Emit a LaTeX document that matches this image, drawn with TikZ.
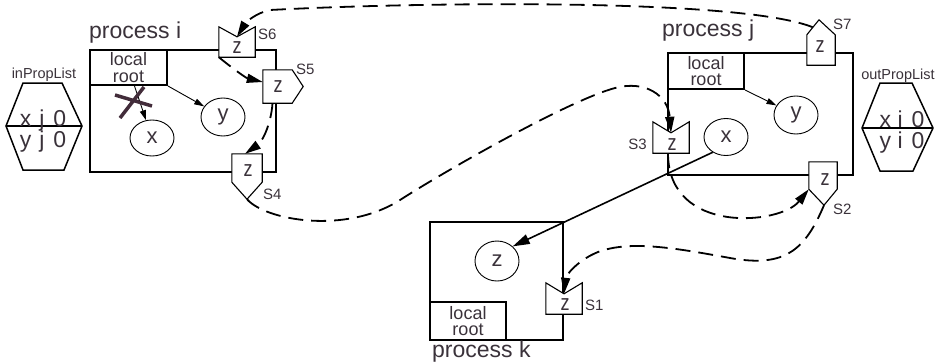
\documentclass[tikz,border=0pt]{standalone}
\usepackage{fontspec}
\setmainfont{Liberation Sans}
\usetikzlibrary{shapes.geometric,arrows.meta,calc}
\definecolor{ink}{RGB}{58,50,58}
\definecolor{crossink}{RGB}{66,44,58}

\tikzset{
  procbox/.style={draw, line width=2pt, anchor=north west, inner sep=0pt},
  rootbox/.style={draw, line width=2pt, anchor=north west, inner sep=0pt,
    align=center, text=ink, font=\fontsize{18}{16.5}\selectfont},
  blob/.style={draw, ellipse, line width=0.9pt, inner sep=0pt, text=ink,
    font=\fontsize{22}{24}\selectfont},
  sigbody/.style={inner sep=0pt},
  sigline/.style={draw, fill=white, line width=1.1pt, line join=miter},
  ztext/.style={inner sep=0pt, text=ink, font=\fontsize{18}{20}\selectfont},
  siglabel/.style={inner sep=0pt, text=ink, font=\fontsize{15}{16}\selectfont, anchor=west},
  proclabel/.style={inner sep=0pt, text=ink, font=\fontsize{23}{26}\selectfont, anchor=base west},
  listlabel/.style={inner sep=0pt, text=ink, font=\fontsize{14.5}{16}\selectfont, anchor=base},
  rowtext/.style={inner sep=0pt, text=ink, font=\fontsize{23}{26}\selectfont, anchor=base},
  hexline/.style={draw, line width=1.5pt, line join=miter},
  divider/.style={line width=2pt},
  flow/.style={line width=1.8pt, dash pattern=on 15pt off 8pt,
    -{Triangle[length=16pt,width=9pt]}},
  pointer/.style={line width=0.9pt, -{Triangle[length=10pt,width=6pt]}},
  bigpointer/.style={line width=1.6pt, -{Triangle[length=17pt,width=10pt]}},
  strike/.style={line width=3.5pt, draw=crossink},
}
\newcommand\zmark{\scalebox{1}[1.25]{z}}

\begin{document}
\begin{tikzpicture}[x=1pt,y=-1pt]
\useasboundingbox (0,0) rectangle (939,362);

% ---------- process i ----------
\node[procbox, minimum width=186pt, minimum height=122pt] (pi) at (89,49) {};
\node[rootbox, minimum width=77pt, minimum height=35pt] (pilr) at (89,49) {local\\root};
\node[proclabel] (pilabel) at (89,38) {process i};
\node[blob, minimum width=44pt, minimum height=36pt] (pix) at (152,138) {x};
\node[blob, minimum width=44pt, minimum height=38pt] (piy) at (223,117) {y};

% ---------- process j ----------
\node[procbox, minimum width=185pt, minimum height=122pt] (pj) at (667,52) {};
\node[rootbox, minimum width=76pt, minimum height=36pt] (pjlr) at (667,52) {local\\root};
\node[proclabel] (pjlabel) at (662,36) {process j};
\node[blob, minimum width=44pt, minimum height=37pt] (pjx) at (726,137) {x};
\node[blob, minimum width=44pt, minimum height=38pt] (pjy) at (796,115) {y};

% ---------- process k ----------
\node[procbox, minimum width=133pt, minimum height=118pt] (pk) at (429,221) {};
\node[rootbox, minimum width=76pt, minimum height=38pt] (pklr) at (429,301) {local\\root};
\node[proclabel] (pklabel) at (432,357) {process k};
\node[blob, minimum width=44pt, minimum height=40pt] (pkz) at (497,261) {z};

% ---------- property lists ----------
\draw[hexline] (6,126) -- (23,83) -- (62,83) -- (82,126) -- (64,170) -- (23,170) -- cycle;
\draw[divider] (6,126) -- (82,126);
\node[listlabel] (inlabel) at (44,78) {inPropList};
\node[rowtext] (inrowa) at (43,126) {x\hspace{8pt}j\hspace{9pt}0};
\node[rowtext] (inrowb) at (43,147) {y\hspace{8pt}j\hspace{9pt}0};

\draw[hexline] (862,128) -- (880,83) -- (912,83) -- (933,128) -- (913,171) -- (880,171) -- cycle;
\draw[divider] (862,128) -- (933,128);
\node[listlabel] (outlabel) at (898,79) {outPropList};
\node[rowtext] (outrowa) at (902,127) {x\hspace{6.5pt}i\hspace{9pt}0};
\node[rowtext] (outrowb) at (902,148) {y\hspace{6.5pt}i\hspace{9pt}0};

% ---------- stubs: notched (incoming) and pointed (outgoing) ----------
% S6, notch on top
\node[sigbody, minimum width=36pt, minimum height=30pt] (s6) at (237,42) {};
\coordinate (s6 notch) at ($(s6.north)+(0,10)$);
\draw[sigline] (s6.north west) -- (s6 notch) -- (s6.north east) -- (s6.south east) -- (s6.south west) -- cycle;
\node[ztext] (s6z) at (237,48) {\zmark};
\node[siglabel] (s6l) at (258,34) {S6};

% S5, pointing right
\node[sigbody, minimum width=29pt, minimum height=33pt] (s5) at (277.5,86.5) {};
\coordinate (s5 tip) at ($(s5.east)+(11,0)$);
\draw[sigline] (s5.north west) -- (s5.north east) -- (s5 tip) -- (s5.south east) -- (s5.south west) -- cycle;
\node[ztext] (s5z) at (278,87) {\zmark};
\node[siglabel] (s5l) at (296,69) {S5};

% S4, pointing down
\node[sigbody, minimum width=30pt, minimum height=28pt] (s4) at (247,168) {};
\coordinate (s4 tip) at ($(s4.south)+(0,17)$);
\draw[sigline] (s4.north west) -- (s4.north east) -- (s4.south east) -- (s4 tip) -- (s4.south west) -- cycle;
\node[ztext] (s4z) at (248,171) {\zmark};
\node[siglabel] (s4l) at (263,194) {S4};

% S7, pointing up
\node[sigbody, minimum width=28pt, minimum height=30pt] (s7) at (821,50) {};
\coordinate (s7 tip) at ($(s7.north)+(-2,-15)$);
\draw[sigline] (s7.south west) -- (s7.north west) -- (s7 tip) -- (s7.north east) -- (s7.south east) -- cycle;
\node[ztext] (s7z) at (820,47) {\zmark};
\node[siglabel] (s7l) at (833,24) {S7};

% S3, notch on top
\node[sigbody, minimum width=36pt, minimum height=31pt] (s3) at (671,137.5) {};
\coordinate (s3 notch) at ($(s3.north)+(0,11)$);
\draw[sigline] (s3.north west) -- (s3 notch) -- (s3.north east) -- (s3.south east) -- (s3.south west) -- cycle;
\node[ztext] (s3z) at (672,145) {\zmark};
\node[siglabel, anchor=east] (s3l) at (647,144) {S3};

% S2, pointing down
\node[sigbody, minimum width=28pt, minimum height=27pt] (s2) at (823,175.5) {};
\coordinate (s2 tip) at ($(s2.south)+(1,16)$);
\draw[sigline] (s2.north west) -- (s2.north east) -- (s2.south east) -- (s2 tip) -- (s2.south west) -- cycle;
\node[ztext] (s2z) at (825,180) {\zmark};
\node[siglabel] (s2l) at (833,209) {S2};

% S1, notch on top
\node[sigbody, minimum width=36pt, minimum height=31pt] (s1) at (564,298.5) {};
\coordinate (s1 notch) at ($(s1.north)+(0,11)$);
\draw[sigline] (s1.north west) -- (s1 notch) -- (s1.north east) -- (s1.south east) -- (s1.south west) -- cycle;
\node[ztext] (s1z) at (565,305) {\zmark};
\node[siglabel] (s1l) at (585,305) {S1};

% ---------- references inside the processes ----------
\draw[pointer] (pilr.south east) -- (piy);
\draw[pointer] ($(pilr.south)+(6,0)$) -- (pix);
\draw[pointer] (pjlr.south east) -- (pjy);
\draw[bigpointer] (pjx.229) -- (pkz.43);

% the deleted reference
\draw[strike] (115,95) -- (152,106) (144,87) -- (120,118);

% ---------- propagation path between stubs ----------
\coordinate (s7 out) at ($(s7.north west)!0.5!(s7 tip)$);
\draw[flow] (s7 out) .. controls (740,-2) and (420,2) .. (270,10)
  .. controls (256,13) and (246,22) .. (s6 notch);

\coordinate (s5 in) at ($(s5.west)+(0,-4.5)$);
\draw[flow] (s6.south west) .. controls (232,68) and (246,78) .. (s5 in);

\coordinate (s5 out) at ($(s5.south)+(-5,0)$);
\coordinate (s4 in) at ($(s4.north)+(-2,0)$);
\draw[flow] (s5 out) .. controls (271,125) and (262,142) .. (s4 in);

\draw[flow] (s4 tip) .. controls (265,220) and (345,235) .. (400,200)
  .. controls (450,168) and (570,100) .. (615,88)
  .. controls (645,80) and (668,95) .. (s3 notch);

\coordinate (s3 out) at ($(s3.south)+(-3,0)$);
\draw[flow] (s3 out) .. controls (668,235) and (780,225) .. (s2.south west);

\draw[flow] (s2 tip) .. controls (805,250) and (785,268) .. (730,258)
  .. controls (675,248) and (630,240) .. (598,252)
  .. controls (578,260) and (566,275) .. (s1 notch);
\end{tikzpicture}
\end{document}
